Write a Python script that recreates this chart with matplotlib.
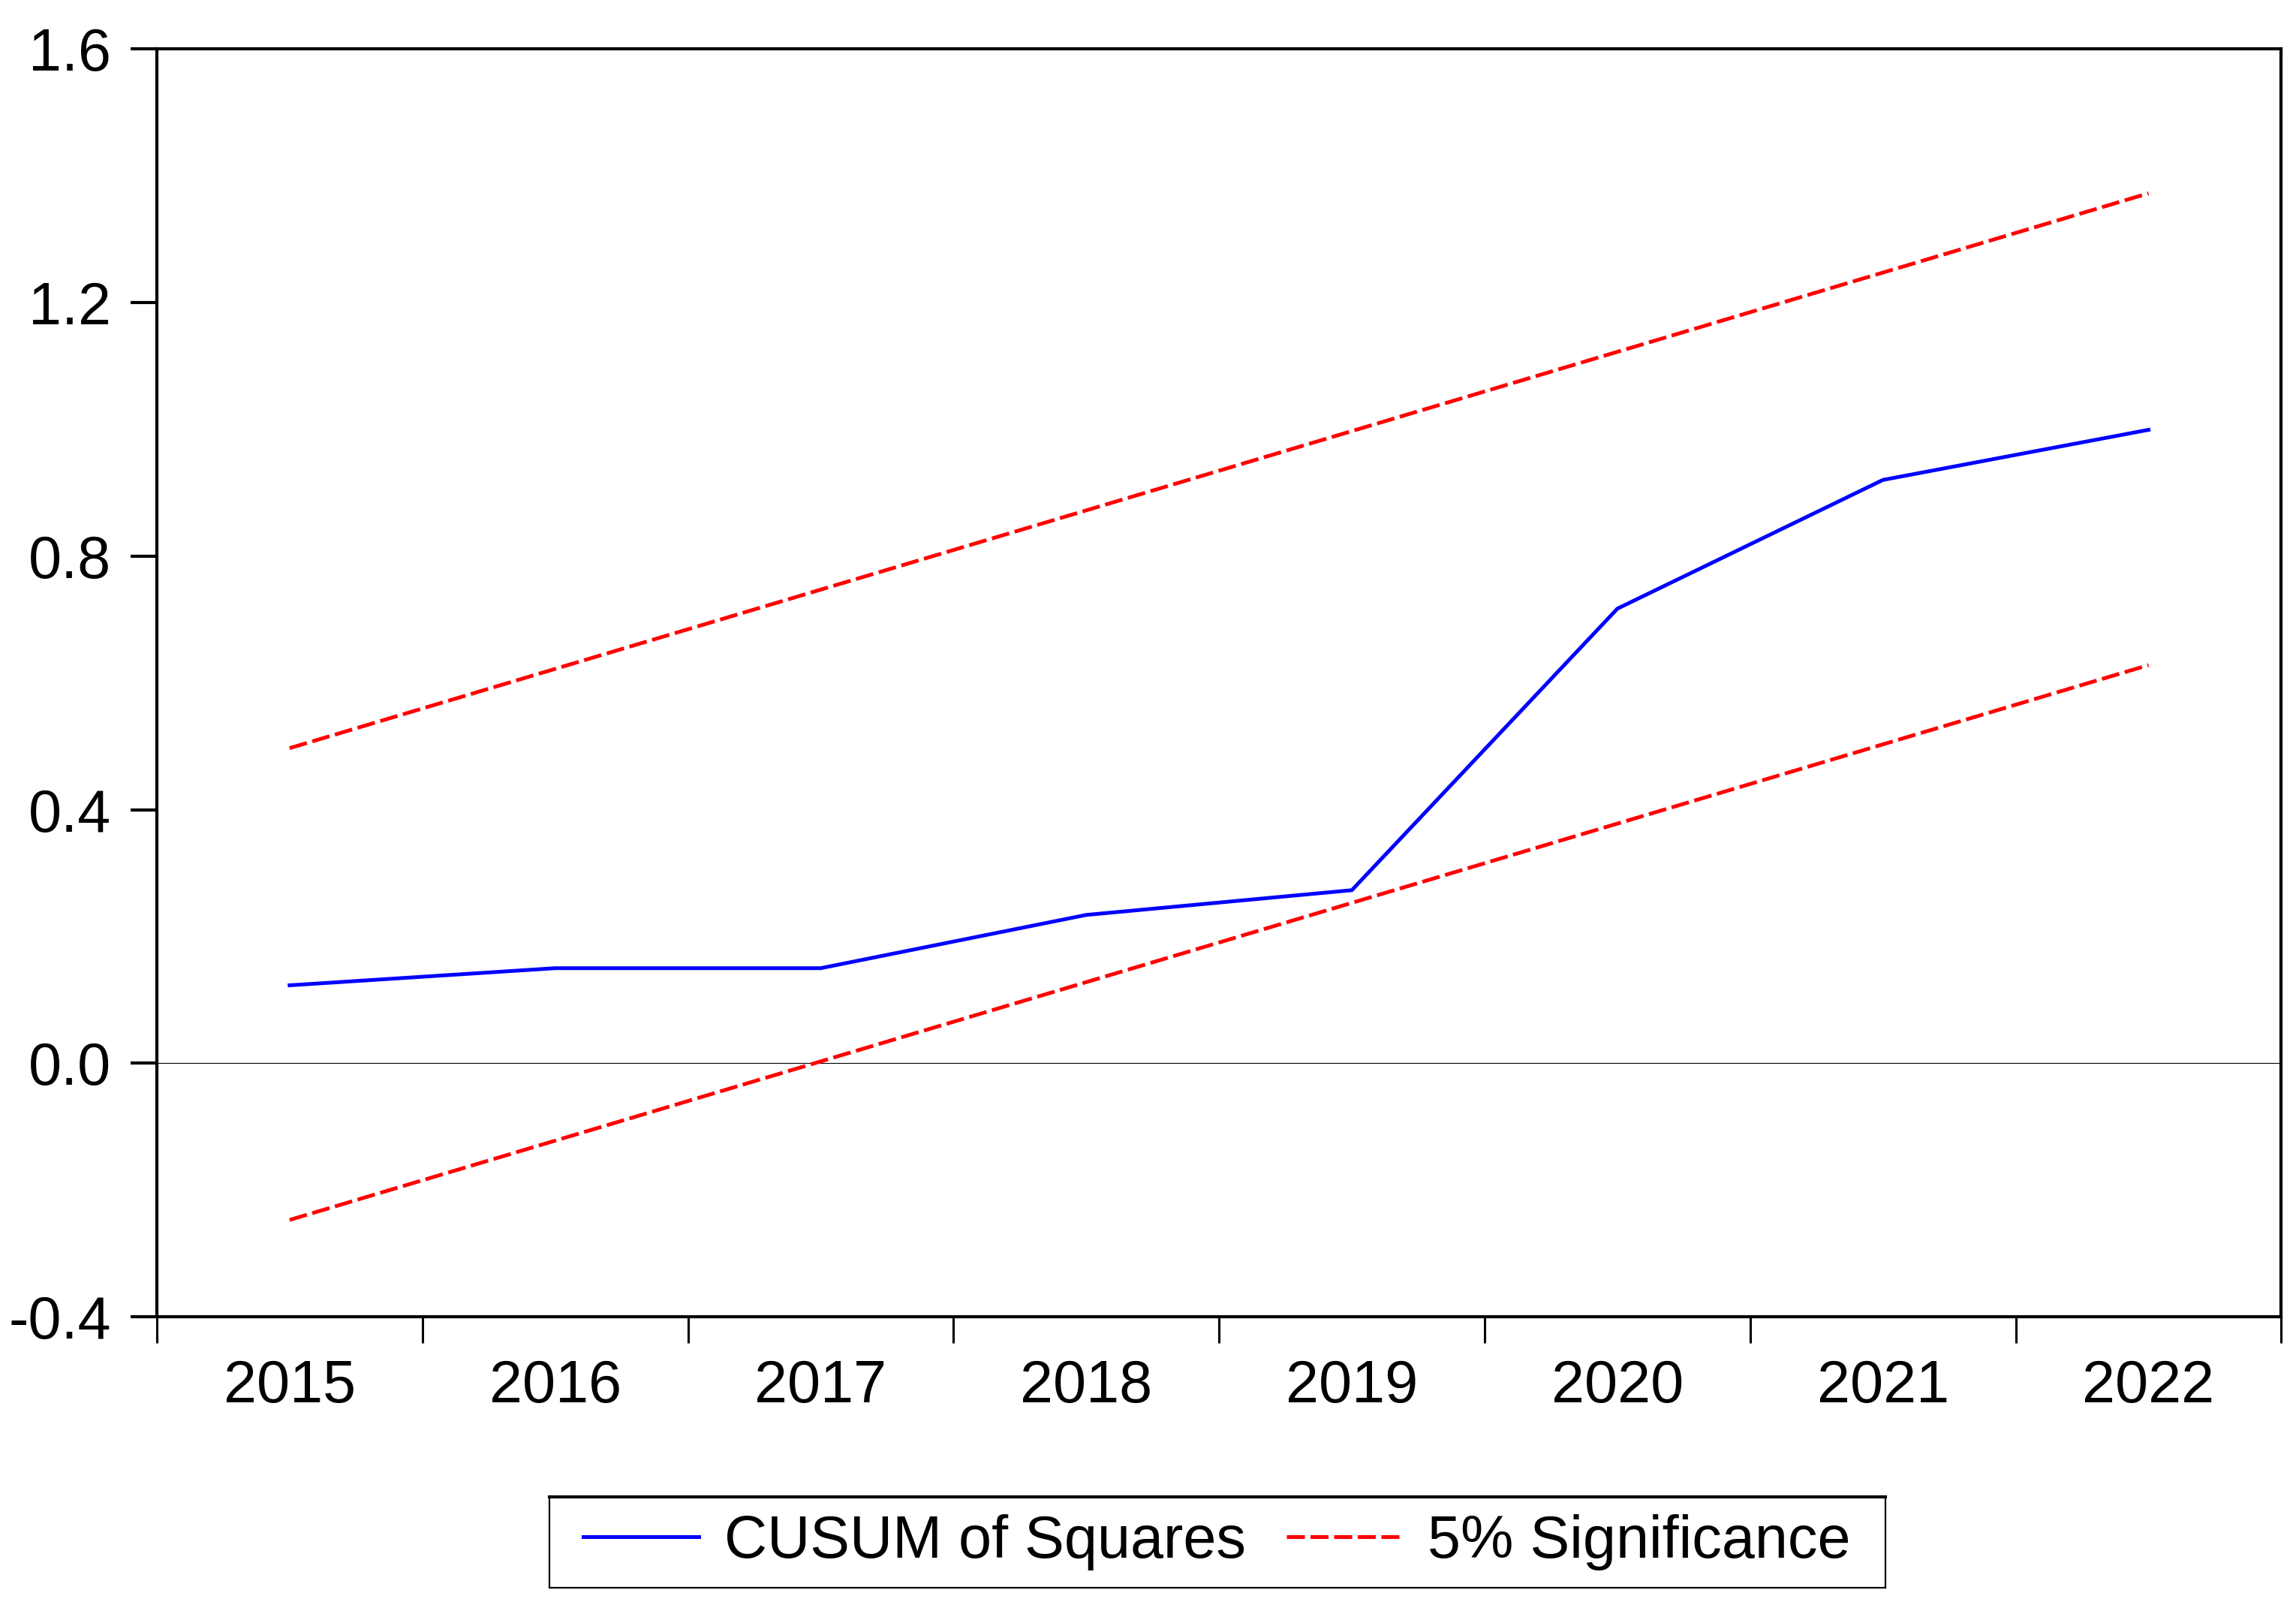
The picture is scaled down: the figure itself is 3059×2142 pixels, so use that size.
import matplotlib
matplotlib.use("Agg")
import matplotlib.pyplot as plt
from matplotlib.patches import Rectangle
from matplotlib.lines import Line2D
from matplotlib.ticker import FixedLocator, FixedFormatter

plt.rcParams['font.family'] = ['Liberation Sans', 'DejaVu Sans']
plt.rcParams['axes.unicode_minus'] = False

# values
years = [2015, 2016, 2017, 2018, 2019, 2020, 2021, 2022]
cusum_sq = [0.123, 0.150, 0.150, 0.234, 0.273, 0.717, 0.920, 0.999]
upper_5pct = [0.497, 0.622, 0.747, 0.872, 0.997, 1.122, 1.247, 1.372]
lower_5pct = [-0.247, -0.122, 0.003, 0.128, 0.253, 0.378, 0.503, 0.628]
y_ticks = [-0.4, 0.0, 0.4, 0.8, 1.2, 1.6]
y_labels = ['-0.4', '0.0', '0.4', '0.8', '1.2', '1.6']

fig = plt.figure(figsize=(30.59, 21.42), dpi=100)
ax = fig.add_axes([0.0683, 0.181, 0.9936 - 0.0683, 0.9697 - 0.181])

ax.axhline(0.0, color='black', lw=0.8, zorder=1)
ax.plot(years, cusum_sq, color='#0000ff', lw=3.6, label='CUSUM of Squares', zorder=3)
ax.plot(years, upper_5pct, color='#ff0000', lw=3.6, dashes=(4.8, 1.5),
        label='5% Significance', zorder=2)
ax.plot(years, lower_5pct, color='#ff0000', lw=3.6, dashes=(4.8, 1.5), zorder=2)

ax.set_xlim(years[0] - 0.5, years[-1] + 0.5)
ax.set_ylim(-0.4, 1.6)

# year boundaries carry the tick marks, year centres carry the labels
bounds = [y - 0.5 for y in years] + [years[-1] + 0.5]
ax.xaxis.set_major_locator(FixedLocator(bounds))
ax.xaxis.set_major_formatter(FixedFormatter([''] * len(bounds)))
ax.xaxis.set_minor_locator(FixedLocator(years))
ax.xaxis.set_minor_formatter(FixedFormatter([str(y) for y in years]))
ax.tick_params(axis='x', which='major', direction='out', length=25, width=2.2)
ax.tick_params(axis='x', which='minor', length=0, pad=40, labelsize=57)

ax.yaxis.set_major_locator(FixedLocator(y_ticks))
ax.yaxis.set_major_formatter(FixedFormatter(y_labels))
ax.tick_params(axis='y', direction='out', length=25, width=3.0, pad=19, labelsize=57)

for sp in ax.spines.values():
    sp.set_linewidth(3.0)

# legend entries without frame, box drawn separately (wider side padding)
leg = ax.legend(loc='center', bbox_to_anchor=(0.530, 0.041), bbox_transform=fig.transFigure,
                ncol=2, fontsize=57, handlelength=1.95, handletextpad=0.43,
                columnspacing=0.67, borderpad=0.3, frameon=False)

box_l, box_r, box_b, box_t = 732 / 3059, 2512 / 3059, 1 - 2115 / 2142, 1 - 1994 / 2142
fig.patches.append(Rectangle((box_l, box_b), box_r - box_l, box_t - box_b,
                             transform=fig.transFigure, fill=False,
                             edgecolor='black', lw=1.6))
fig.lines.append(Line2D([box_l, box_r], [box_t, box_t], transform=fig.transFigure,
                        color='black', lw=3.0))

fig.savefig('out.png', dpi=100)
